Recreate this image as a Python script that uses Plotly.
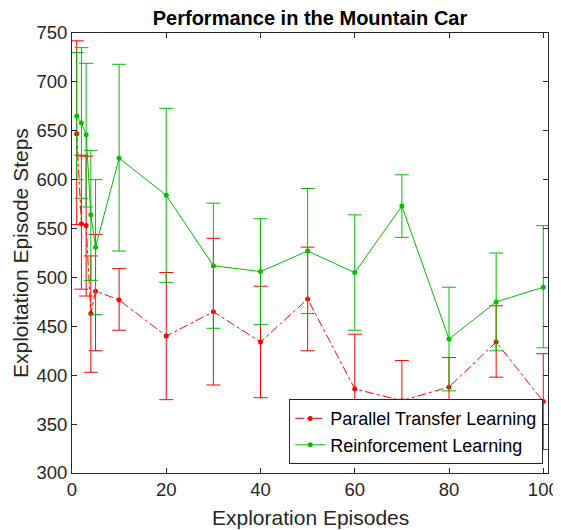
import plotly.graph_objects as go

x_vals = [1, 2, 3, 4, 5, 10, 20, 30, 40, 50, 60, 70, 80, 90, 100]

ptl_mean = [647, 555, 553, 463, 486, 477, 440, 465, 434, 478, 386, 374, 388, 434, 373]
ptl_upper = [742, 625, 624, 522, 544, 509, 505, 540, 491, 531, 442, 415, 418, 471, 422]
ptl_lower = [554, 488, 481, 403, 425, 446, 375, 390, 377, 425, 330, 333, 359, 398, 324]

rl_mean = [665, 658, 646, 564, 531, 622, 584, 512, 506, 527, 505, 573, 437, 475, 490]
rl_upper = [730, 735, 719, 630, 600, 718, 673, 576, 560, 591, 564, 605, 490, 525, 553]
rl_lower = [600, 581, 572, 497, 462, 527, 495, 448, 452, 463, 446, 541, 384, 425, 428]

x_ticks = [0, 20, 40, 60, 80, 100]
y_ticks = [300, 350, 400, 450, 500, 550, 600, 650, 700, 750]

RED = "#FF0000"
GREEN = "#00BE00"
AX = "#262626"
FONT = "Liberation Sans, Arial, sans-serif"


def err(mean, upper, lower):
    return ([u - m for u, m in zip(upper, mean)], [m - l for m, l in zip(mean, lower)])


pu, pl = err(ptl_mean, ptl_upper, ptl_lower)
ru, rl = err(rl_mean, rl_upper, rl_lower)

fig = go.Figure()
fig.add_trace(go.Scatter(
    x=x_vals, y=ptl_mean, mode="lines+markers", name="Parallel Transfer Learning",
    line=dict(color=RED, width=1, dash="dashdot"),
    marker=dict(color=RED, size=5),
    error_y=dict(type="data", symmetric=False, array=pu, arrayminus=pl,
                 color=RED, thickness=1, width=7),
))
fig.add_trace(go.Scatter(
    x=x_vals, y=rl_mean, mode="lines+markers", name="Reinforcement Learning",
    line=dict(color=GREEN, width=1),
    marker=dict(color=GREEN, size=5),
    error_y=dict(type="data", symmetric=False, array=ru, arrayminus=rl,
                 color=GREEN, thickness=1, width=7),
))

axis_common = dict(
    showgrid=False, zeroline=False, showline=True, linecolor=AX, linewidth=1,
    mirror="allticks", ticks="inside", ticklen=5, tickcolor=AX,
    tickfont=dict(family=FONT, size=18.5, color=AX), automargin=False,
)

W, H = 553, 522
fig.update_layout(
    width=W, height=H,
    margin=dict(l=64, r=13, t=25, b=57),
    paper_bgcolor="white", plot_bgcolor="white",
    title=dict(text="<b>Performance in the Mountain Car</b>",
               font=dict(family=FONT, size=20, color="black"),
               x=0.5, xref="paper", xanchor="center", y=1 - 3 / H, yanchor="top",
               pad=dict(t=0, b=0)),
    xaxis=dict(range=[0, 101], tickvals=x_ticks, **axis_common),
    yaxis=dict(range=[300, 750], tickvals=y_ticks, **axis_common),
    legend=dict(x=0.99, y=0.02, xanchor="right", yanchor="bottom",
                bgcolor="white", bordercolor=AX, borderwidth=1,
                font=dict(family=FONT, size=18, color="black"),
                tracegroupgap=0, itemwidth=30),
    showlegend=True,
    annotations=[
        dict(text="Exploration Episodes", xref="paper", yref="paper", x=0.5, y=0,
             xanchor="center", yanchor="middle", yshift=-44, showarrow=False,
             font=dict(family=FONT, size=21, color=AX)),
        dict(text="Exploitation Episode Steps", xref="paper", yref="paper", x=0, y=0.5,
             xanchor="center", yanchor="middle", xshift=-52, textangle=-90, showarrow=False,
             font=dict(family=FONT, size=21, color=AX)),
    ],
)

fig.write_html("out.html")
